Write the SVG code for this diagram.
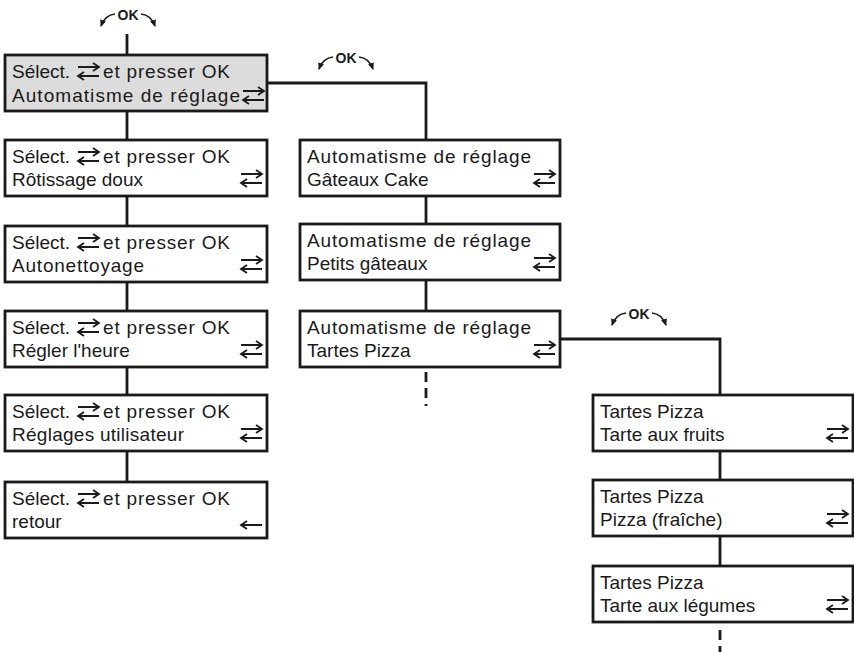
<svg xmlns="http://www.w3.org/2000/svg" xmlns:xlink="http://www.w3.org/1999/xlink" width="854" height="652" viewBox="0 0 854 652">
<style>
  .box { fill: #ffffff; stroke: #1a1a1a; stroke-width: 2.8; }
  .sel { fill: #dcdcdc; }
  .t { font-family: "Liberation Sans", Arial, sans-serif; font-size: 19px; fill: #1a1a1a; }
  .ok { font-family: "Liberation Sans", Arial, sans-serif; font-size: 14px; font-weight: bold; fill: #1a1a1a; text-anchor: middle; }
  .con { fill: none; stroke: #1a1a1a; stroke-width: 2.8; }
  .dash { fill: none; stroke: #1a1a1a; stroke-width: 2.8; stroke-dasharray: 10 6; }
  .arc { fill: none; stroke: #1a1a1a; stroke-width: 1.6; marker-end: url(#ah); }
  .ar { fill: none; stroke: #1a1a1a; stroke-width: 1.8; }
</style>
<defs>
  <marker id="ah" markerUnits="userSpaceOnUse" markerWidth="8" markerHeight="7" refX="6" refY="3" orient="auto">
    <path d="M0,0 L7,3 L0,6 z" fill="#1a1a1a"/>
  </marker>
  <g id="dbl" class="ar">
    <path d="M0,0 H21 M15,-4 L21,0 L15,4"/>
    <path d="M21,9 H0 M6,5 L0,9 L6,13"/>
  </g>
  <g id="left" class="ar">
    <path d="M21,0 H0 M6,-4 L0,0 L6,4"/>
  </g>
</defs>

<g id="connectors">
  <line class="con" x1="127" y1="34" x2="127" y2="55"/>
  <line class="con" x1="127" y1="111" x2="127" y2="140"/>
  <line class="con" x1="127" y1="196" x2="127" y2="226"/>
  <line class="con" x1="127" y1="282" x2="127" y2="311"/>
  <line class="con" x1="127" y1="367" x2="127" y2="395"/>
  <line class="con" x1="127" y1="451" x2="127" y2="482"/>
  <polyline class="con" points="267,83 426,83 426,140"/>
  <line class="con" x1="426" y1="196" x2="426" y2="224"/>
  <line class="con" x1="426" y1="280" x2="426" y2="311"/>
  <line class="dash" x1="426" y1="372" x2="426" y2="406"/>
  <polyline class="con" points="560,339 720,339 720,395"/>
  <line class="con" x1="720" y1="451" x2="720" y2="480"/>
  <line class="con" x1="720" y1="536" x2="720" y2="566"/>
  <line class="dash" x1="720" y1="630" x2="720" y2="652"/>
  <path class="arc" d="M115,14 Q105,15 101,26"/>
  <path class="arc" d="M141,14 Q151,15 155,26"/>
  <path class="arc" d="M333,57 Q323,58 319,69"/>
  <path class="arc" d="M359,57 Q369,58 373,69"/>
  <path class="arc" d="M626,313 Q616,314 612,325"/>
  <path class="arc" d="M652,313 Q662,314 666,325"/>
</g>

<g id="ok-labels">
  <text class="ok" x="128" y="20">OK</text>
  <text class="ok" x="346" y="63">OK</text>
  <text class="ok" x="639" y="319">OK</text>
</g>

<g id="n-auto">
  <rect class="box sel" x="5" y="55" width="262" height="56"/>
  <text class="t" x="12" y="78">Sélect.</text>
  <use xlink:href="#dbl" x="78" y="67"/>
  <text class="t" x="103" y="78" textLength="127" lengthAdjust="spacing">et presser OK</text>
  <text class="t" x="12" y="102" textLength="228" lengthAdjust="spacing">Automatisme de réglage</text>
  <use xlink:href="#dbl" x="243" y="91"/>
</g>

<g id="n-rotissage">
  <rect class="box" x="5" y="140" width="262" height="56"/>
  <text class="t" x="12" y="163">Sélect.</text>
  <use xlink:href="#dbl" x="78" y="152"/>
  <text class="t" x="103" y="163" textLength="127" lengthAdjust="spacing">et presser OK</text>
  <text class="t" x="12" y="186">Rôtissage doux</text>
  <use xlink:href="#dbl" x="241" y="174"/>
</g>

<g id="n-autonettoyage">
  <rect class="box" x="5" y="226" width="262" height="56"/>
  <text class="t" x="12" y="249">Sélect.</text>
  <use xlink:href="#dbl" x="78" y="238"/>
  <text class="t" x="103" y="249" textLength="127" lengthAdjust="spacing">et presser OK</text>
  <text class="t" x="12" y="272" textLength="132" lengthAdjust="spacing">Autonettoyage</text>
  <use xlink:href="#dbl" x="241" y="260"/>
</g>

<g id="n-heure">
  <rect class="box" x="5" y="311" width="262" height="56"/>
  <text class="t" x="12" y="334">Sélect.</text>
  <use xlink:href="#dbl" x="78" y="323"/>
  <text class="t" x="103" y="334" textLength="127" lengthAdjust="spacing">et presser OK</text>
  <text class="t" x="12" y="357">Régler l'heure</text>
  <use xlink:href="#dbl" x="241" y="345"/>
</g>

<g id="n-utilisateur">
  <rect class="box" x="5" y="395" width="262" height="56"/>
  <text class="t" x="12" y="418">Sélect.</text>
  <use xlink:href="#dbl" x="78" y="407"/>
  <text class="t" x="103" y="418" textLength="127" lengthAdjust="spacing">et presser OK</text>
  <text class="t" x="12" y="441" textLength="172" lengthAdjust="spacing">Réglages utilisateur</text>
  <use xlink:href="#dbl" x="241" y="429"/>
</g>

<g id="n-retour">
  <rect class="box" x="5" y="482" width="262" height="56"/>
  <text class="t" x="12" y="505">Sélect.</text>
  <use xlink:href="#dbl" x="78" y="494"/>
  <text class="t" x="103" y="505" textLength="127" lengthAdjust="spacing">et presser OK</text>
  <text class="t" x="12" y="528">retour</text>
  <use xlink:href="#left" x="241" y="525"/>
</g>

<g id="n-gateaux-cake">
  <rect class="box" x="300" y="140" width="260" height="56"/>
  <text class="t" x="307" y="163" textLength="224" lengthAdjust="spacing">Automatisme de réglage</text>
  <text class="t" x="307" y="186">Gâteaux Cake</text>
  <use xlink:href="#dbl" x="534" y="174"/>
</g>

<g id="n-petits-gateaux">
  <rect class="box" x="300" y="224" width="260" height="56"/>
  <text class="t" x="307" y="247" textLength="224" lengthAdjust="spacing">Automatisme de réglage</text>
  <text class="t" x="307" y="270">Petits gâteaux</text>
  <use xlink:href="#dbl" x="534" y="258"/>
</g>

<g id="n-tartes-pizza">
  <rect class="box" x="300" y="311" width="260" height="56"/>
  <text class="t" x="307" y="334" textLength="224" lengthAdjust="spacing">Automatisme de réglage</text>
  <text class="t" x="307" y="357">Tartes Pizza</text>
  <use xlink:href="#dbl" x="534" y="345"/>
</g>

<g id="n-tarte-fruits">
  <rect class="box" x="593" y="395" width="260" height="56"/>
  <text class="t" x="600" y="418">Tartes Pizza</text>
  <text class="t" x="600" y="441">Tarte aux fruits</text>
  <use xlink:href="#dbl" x="827" y="429"/>
</g>

<g id="n-pizza-fraiche">
  <rect class="box" x="593" y="480" width="260" height="56"/>
  <text class="t" x="600" y="503">Tartes Pizza</text>
  <text class="t" x="600" y="526">Pizza (fraîche)</text>
  <use xlink:href="#dbl" x="827" y="514"/>
</g>

<g id="n-tarte-legumes">
  <rect class="box" x="593" y="566" width="260" height="56"/>
  <text class="t" x="600" y="589">Tartes Pizza</text>
  <text class="t" x="600" y="612">Tarte aux légumes</text>
  <use xlink:href="#dbl" x="827" y="600"/>
</g>
</svg>
